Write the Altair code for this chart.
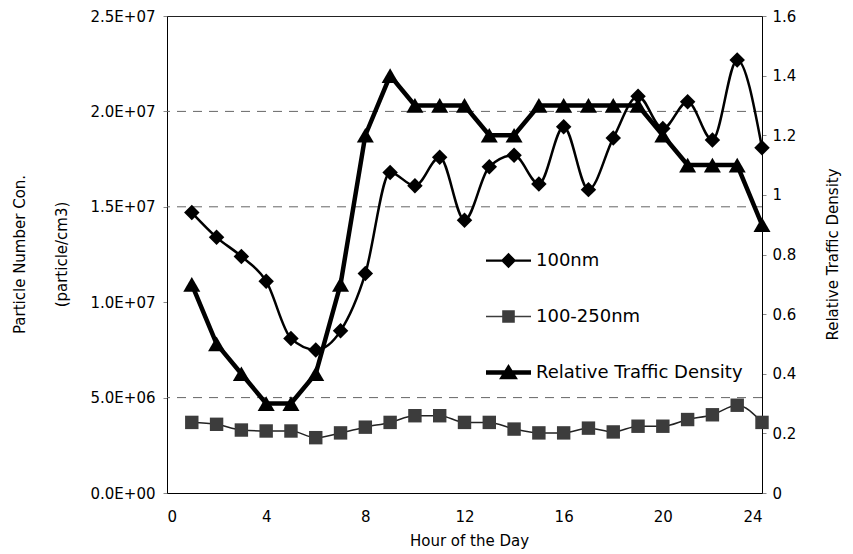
import altair as alt
import pandas as pd

hours = list(range(1, 25))
series_names = ["100nm", "100-250nm", "Relative Traffic Density"]
nm100 = [14.7e6, 13.4e6, 12.4e6, 11.1e6, 8.1e6, 7.5e6, 8.5e6, 11.5e6, 16.8e6, 16.1e6, 17.6e6, 14.3e6,
         17.1e6, 17.7e6, 16.2e6, 19.2e6, 15.9e6, 18.6e6, 20.8e6, 19.1e6, 20.5e6, 18.5e6, 22.7e6, 18.1e6]
nm250 = [3.7e6, 3.6e6, 3.3e6, 3.25e6, 3.25e6, 2.9e6, 3.15e6, 3.45e6, 3.7e6, 4.05e6, 4.05e6, 3.7e6,
         3.7e6, 3.35e6, 3.15e6, 3.15e6, 3.4e6, 3.2e6, 3.5e6, 3.5e6, 3.85e6, 4.1e6, 4.6e6, 3.7e6]
traffic = [0.7, 0.5, 0.4, 0.3, 0.3, 0.4, 0.7, 1.2, 1.4, 1.3, 1.3, 1.3,
           1.2, 1.2, 1.3, 1.3, 1.3, 1.3, 1.3, 1.2, 1.1, 1.1, 1.1, 0.9]
grid_values = [5e6, 1.5e7, 2e7]
x_ticks = [0, 4, 8, 12, 16, 20, 24]
left_ticks = [0, 5e6, 1e7, 1.5e7, 2e7, 2.5e7]
right_ticks = [0, 0.2, 0.4, 0.6, 0.8, 1.0, 1.2, 1.4, 1.6]

FONT = "DejaVu Sans"

df100 = pd.DataFrame({"hour": hours, "value": nm100})
df250 = pd.DataFrame({"hour": hours, "value": nm250})
dft = pd.DataFrame({"hour": hours, "value": traffic})
dfgrid = pd.DataFrame({"value": grid_values})
dflegend = pd.DataFrame({
    "hour": hours * 3,
    "value": nm100 + nm250 + traffic,
    "series": [series_names[0]] * 24 + [series_names[1]] * 24 + [series_names[2]] * 24,
})

x_enc = alt.X("hour:Q", scale=alt.Scale(domain=[0, 24], nice=False),
              axis=alt.Axis(values=x_ticks, title="Hour of the Day", grid=False,
                            tickSize=0, labelPadding=16, labelFontSize=15, labelFont=FONT,
                            labelColor="black", titleFont=FONT, titleFontSize=15,
                            titleFontWeight="normal", titleColor="black",
                            titleX=302, titleY=47, titleBaseline="middle",
                            domainColor="black"))

left_label = ("datum.value == 0 ? '0.0E+00' : format(datum.value / pow(10, floor(log(datum.value)/LN10 + 1e-9)), '.1f')"
              " + 'E+' + format(floor(log(datum.value)/LN10 + 1e-9), '02d')")

y_left = alt.Y("value:Q", scale=alt.Scale(domain=[0, 2.5e7], nice=False),
               axis=alt.Axis(values=left_ticks, labelExpr=left_label, orient="left", grid=False,
                             title=["Particle Number Con.", "(particle/cm3)"],
                             tickSize=4, labelPadding=8, labelFontSize=15, labelFont=FONT,
                             labelColor="black", titleFont=FONT, titleFontSize=15,
                             titleFontWeight="normal", titleColor="black",
                             titleAngle=270, titleX=-155, titleY=238, titleBaseline="top",
                             titleAlign="center", titleLineHeight=42, domainColor="black"))

y_right = alt.Y("value:Q", scale=alt.Scale(domain=[0, 1.6], nice=False),
                axis=alt.Axis(values=right_ticks, format="~g", orient="right", grid=False,
                              title="Relative Traffic Density",
                              tickSize=4, labelPadding=6, labelFontSize=15, labelFont=FONT,
                              labelColor="black", titleFont=FONT, titleFontSize=15,
                              titleFontWeight="normal", titleColor="black",
                              titleAngle=270, titleX=70, titleY=238, titleBaseline="middle",
                              titleAlign="center", domainColor="black"))

grid = alt.Chart(dfgrid).mark_rule(color="#666", strokeWidth=1, strokeDash=[9, 7]).encode(y=y_left)

line100 = alt.Chart(df100).mark_line(color="black", strokeWidth=2.5, interpolate="monotone").encode(x=x_enc, y=y_left)
pts100 = alt.Chart(df100).mark_point(shape="diamond", filled=True, size=240, color="black", opacity=1).encode(x=x_enc, y=y_left)
line250 = alt.Chart(df250).mark_line(color="#222", strokeWidth=1.5, interpolate="monotone").encode(x=x_enc, y=y_left)
pts250 = alt.Chart(df250).mark_point(shape="square", filled=True, size=180, color="#3c3c3c", opacity=1).encode(x=x_enc, y=y_left)

legend_shapes = [
    "M-1,-0.05H1V0.05H-1Z M0,-0.34L0.34,0L0,0.34L-0.34,0Z",
    "M-1,-0.035H1V0.035H-1Z M-0.28,-0.28H0.28V0.28H-0.28Z",
    "M-1,-0.1H1V0.1H-1Z M0,-0.38L0.42,0.3H-0.42Z",
]

dummy = alt.Chart(dflegend).transform_filter("datum.value < 0").mark_point(filled=True, opacity=1).encode(
    x=x_enc, y=y_left,
    color=alt.Color("series:N",
                    scale=alt.Scale(domain=series_names, range=["black", "#3c3c3c", "black"]),
                    legend=alt.Legend(title=None, orient="none", legendX=319, legendY=222,
                                      symbolSize=2025, symbolStrokeWidth=0, symbolOpacity=1,
                                      labelFont=FONT, labelFontSize=18, labelColor="black",
                                      labelLimit=400, labelOffset=5, rowPadding=24, padding=0)),
    shape=alt.Shape("series:N", scale=alt.Scale(domain=series_names, range=legend_shapes)),
)

left = alt.layer(grid, line250, pts250, line100, pts100, dummy)

lineT = alt.Chart(dft).mark_line(color="black", strokeWidth=4.5).encode(x=x_enc, y=y_right)
ptsT = alt.Chart(dft).mark_point(shape="triangle-up", filled=True, size=290, color="black", opacity=1).encode(x=x_enc, y=y_right)
right = alt.layer(lineT, ptsT)

chart = alt.layer(left, right).resolve_scale(y="independent").properties(
    width=595, height=477,
    autosize=alt.AutoSizeParams(type="none"),
    padding={"left": 159, "top": 8, "right": 83, "bottom": 61},
    background="white",
).configure_view(stroke="#222", strokeWidth=1)

chart.save("out.html", embed_options={"renderer": "svg", "actions": False})
